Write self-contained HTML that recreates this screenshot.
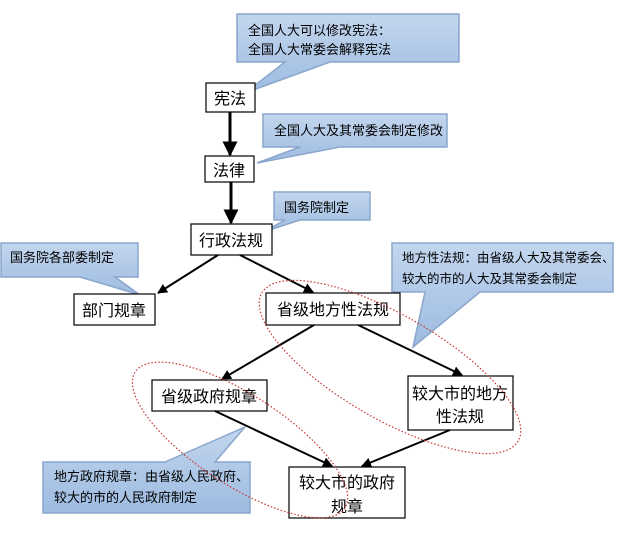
<!DOCTYPE html>
<html><head><meta charset="utf-8"><style>
html,body{margin:0;padding:0;background:#fff;}
svg text{font-family:"Liberation Sans","Noto Sans CJK SC","WenQuanYi Zen Hei",sans-serif;}
</style></head><body>
<svg width="619" height="532" viewBox="0 0 619 532" xmlns="http://www.w3.org/2000/svg">
<defs>
<linearGradient id="g" x1="0" y1="0" x2="0" y2="1"><stop offset="0" stop-color="#c3d6ee"/><stop offset="1" stop-color="#9dbbe0"/></linearGradient>
<marker id="a" viewBox="0 0 10 10" refX="9" refY="5" markerWidth="5" markerHeight="5" orient="auto"><path d="M0,0L10,5L0,10z" fill="#000"/></marker>
</defs>
<g fill="url(#g)" stroke="#8aa6cc" stroke-width="1.5">
<path d="M237,14H459V62H330L245,93L285,62H237Z"/>
<path d="M263,114H447V147H340L257,163L300,147H263Z"/>
<path d="M274,192H370V220H300L263,232L285,220H274Z"/>
<path d="M1,243H138V277H115L140,295L80,277H1Z"/>
<path d="M392,243H613V292H480L413,347L425,292H392Z"/>
<path d="M43,462H165L245,427L215,462H250V513H43Z"/>
</g>
<g font-size="13" fill="#000">
<text x="248" y="35">全国人大可以修改宪法：</text>
<text x="248" y="54">全国人大常委会解释宪法</text>
<text x="274" y="135">全国人大及其常委会制定修改</text>
<text x="284" y="212">国务院制定</text>
<text x="10" y="262">国务院各部委制定</text>
<text x="402" y="262" font-size="12.5">地方性法规：由省级人大及其常委会、</text>
<text x="402" y="283" font-size="12.5">较大的市的人大及其常委会制定</text>
<text x="54" y="481">地方政府规章：由省级人民政府、</text>
<text x="54" y="502">较大的市的人民政府制定</text>
</g>
<g fill="#fff" stroke="#000" stroke-width="1.2">
<rect x="206" y="83" width="49" height="29"/>
<rect x="205" y="156" width="49" height="26"/>
<rect x="191" y="224" width="81" height="31"/>
<rect x="74" y="294" width="81" height="31"/>
<rect x="266" y="293" width="134" height="32"/>
<rect x="152" y="380" width="115" height="31"/>
<rect x="408" y="376" width="105" height="54"/>
<rect x="289" y="467" width="116" height="51"/>
</g>
<g font-size="16" fill="#000" text-anchor="middle">
<text x="230" y="104">宪法</text>
<text x="229" y="176">法律</text>
<text x="231" y="246">行政法规</text>
<text x="114" y="316">部门规章</text>
<text x="333" y="315">省级地方性法规</text>
<text x="209" y="402">省级政府规章</text>
<text x="460" y="399">较大市的地方</text>
<text x="460" y="422">性法规</text>
<text x="347" y="488">较大市的政府</text>
<text x="347" y="512">规章</text>
</g>
<g stroke="#000" stroke-width="3" fill="none" marker-end="url(#a)">
<line x1="230" y1="112" x2="230" y2="155"/>
<line x1="231" y1="182" x2="231" y2="223"/>
</g>
<g stroke="#000" stroke-width="2" fill="none" marker-end="url(#a)">
<line x1="218" y1="255" x2="158" y2="293"/>
<line x1="240" y1="255" x2="313" y2="292"/>
<line x1="314" y1="325" x2="222" y2="379"/>
<line x1="358" y1="325" x2="462" y2="375"/>
<line x1="215" y1="411" x2="332" y2="466"/>
<line x1="450" y1="430" x2="362" y2="466"/>
</g>
<g fill="none" stroke="#c33" stroke-width="1.2" stroke-dasharray="1.5,2">
<ellipse cx="390" cy="367" rx="148" ry="52" transform="rotate(30 390 367)"/>
<ellipse cx="240" cy="440" rx="125" ry="45" transform="rotate(33 240 440)"/>
</g>
</svg>
</body></html>
